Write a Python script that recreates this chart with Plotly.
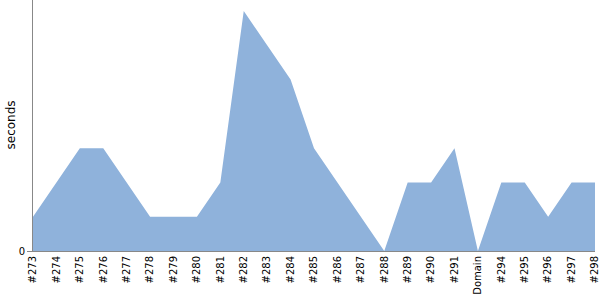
import plotly.graph_objects as go

categories = ["#273", "#274", "#275", "#276", "#277", "#278", "#279", "#280", "#281",
              "#282", "#283", "#284", "#285", "#286", "#287", "#288", "#289", "#290",
              "#291", "Domain", "#294", "#295", "#296", "#297", "#298"]
seconds = [1, 2, 3, 3, 2, 1, 1, 1, 2, 7, 6, 5, 3, 2, 1, 0, 2, 2, 3, 0, 2, 2, 1, 2, 2]

fig = go.Figure()
fig.add_trace(go.Scatter(
    x=categories, y=seconds, mode="lines", fill="tozeroy",
    line=dict(width=0, color="rgb(143,178,219)"),
    fillcolor="rgb(143,178,219)", hoverinfo="x+y",
))
fig.update_layout(
    width=600, height=300,
    margin=dict(l=33, r=5, t=0, b=49),
    paper_bgcolor="white", plot_bgcolor="white",
    showlegend=False,
    font=dict(family="DejaVu Sans, Verdana, sans-serif", size=10, color="black"),
    xaxis=dict(type="category", tickangle=-90, showgrid=False, zeroline=False,
               showline=True, linecolor="#888", linewidth=1, ticks="",
               range=[0, len(categories) - 1], tickfont=dict(size=10)),
    yaxis=dict(range=[0, 7.32], tickvals=[0], ticktext=["0"], showgrid=False,
               zeroline=False, showline=True, linecolor="#888", linewidth=1,
               ticks="outside", ticklen=5, tickcolor="#888",
               tickfont=dict(size=10)),
    annotations=[dict(text="seconds", xref="paper", yref="paper",
                      x=-23 / 562, y=0.5, xanchor="center", yanchor="middle",
                      textangle=-90, showarrow=False, font=dict(size=12))],
)
fig.write_html("out.html")
